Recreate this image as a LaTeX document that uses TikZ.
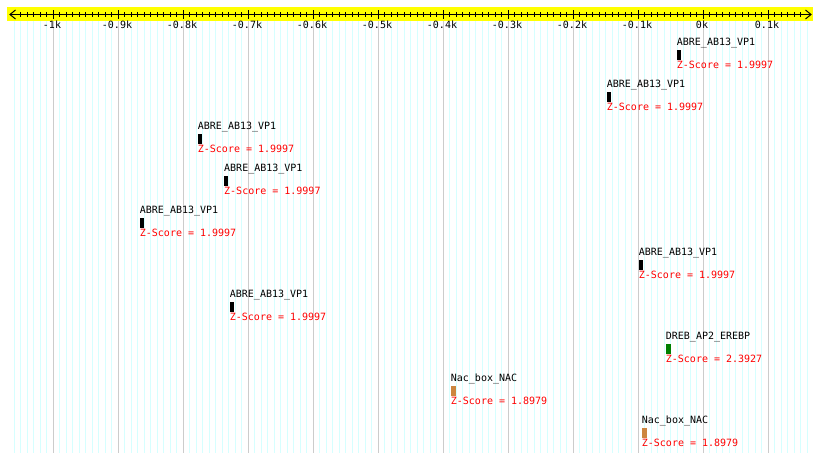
\documentclass[tikz,border=0pt]{standalone}
\usepackage{fontspec}
\setmonofont{DejaVu Sans Mono}
\definecolor{axisyellow}{RGB}{255,255,0}
\definecolor{gridcyan}{RGB}{214,255,255}
\definecolor{gridgray}{RGB}{204,204,204}
\definecolor{zred}{RGB}{255,0,0}
\definecolor{dgreen}{RGB}{0,128,0}
\definecolor{nactan}{RGB}{205,133,63}
\tikzset{
  minorgrid/.style={gridcyan, line width=1pt},
  majorgrid/.style={gridgray, line width=1pt},
  axisline/.style={black, line width=1pt},
  ticklabel/.style={anchor=base, inner sep=0pt, text=black},
  sitelabel/.style={anchor=base west, inner sep=0pt, text=black},
  scorelabel/.style={anchor=base west, inner sep=0pt, text=zred},
  sitebar/.style={anchor=north west, inner sep=0pt, minimum height=10pt, draw=none},
}
\begin{document}
\begin{tikzpicture}[x=1pt, y=-1pt, font=\ttfamily\fontsize{10}{12}\selectfont]
\useasboundingbox (0,0) rectangle (820,463);
\fill[white] (0,0) rectangle (820,463);
% grid lines
\foreach \v in {-1060,-1050,...,160}
  \draw[minorgrid] ({703.3+0.65*\v},21) -- ({703.3+0.65*\v},453);
\foreach \v in {-1000,-900,...,100}
  \draw[majorgrid] ({703.3+0.65*\v},21) -- ({703.3+0.65*\v},453);
% axis band
\fill[axisyellow] (7,7) rectangle (813,21);
\coordinate (axL) at (10,14.5);
\coordinate (axR) at (811,14.5);
\draw[axisline] (axL) -- (axR);
\draw[axisline] (15.5,10) -- (axL) -- (15.5,19);
\draw[axisline] (805.5,10) -- (axR) -- (805.5,19);
\foreach \v in {-1050,-1040,...,150}
  \draw[axisline] ({703.3+0.65*\v},12) -- ({703.3+0.65*\v},17);
\foreach \v in {-1000,-900,...,100}
  \draw[axisline] ({703.3+0.65*\v},10) -- ({703.3+0.65*\v},19);
% tick labels
\foreach \v/\t [count=\k] in {-1000/-1k,-900/-0.9k,-800/-0.8k,-700/-0.7k,-600/-0.6k,-500/-0.5k,-400/-0.4k,-300/-0.3k,-200/-0.2k,-100/-0.1k,0/0k,100/0.1k}
  \node[ticklabel] (tl\k) at ({702+0.65*\v},28.5) {\t};
% sites
\foreach \i/\x/\n/\c/\w/\z in {
  1/676.7/ABRE\_AB13\_VP1/black/4pt/1.9997,
  2/606.7/ABRE\_AB13\_VP1/black/4pt/1.9997,
  3/197.7/ABRE\_AB13\_VP1/black/4pt/1.9997,
  4/224/ABRE\_AB13\_VP1/black/4pt/1.9997,
  5/139.7/ABRE\_AB13\_VP1/black/4pt/1.9997,
  6/638.7/ABRE\_AB13\_VP1/black/4pt/1.9997,
  7/229.7/ABRE\_AB13\_VP1/black/4pt/1.9997,
  8/665.7/DREB\_AP2\_EREBP/dgreen/5pt/2.3927,
  9/450.7/Nac\_box\_NAC/nactan/5pt/1.8979,
  10/641.7/Nac\_box\_NAC/nactan/5pt/1.8979}
{
  \pgfmathsetmacro{\ty}{49.3+42*(\i-1)}
  \node[sitebar, fill=\c, minimum width=\w] (bar\i) at (\x,\ty) {};
  \node[sitelabel] (name\i) at (\x,\ty-4) {\n};
  \node[scorelabel] (score\i) at (\x,\ty+19) {Z-Score = \z};
}
\end{tikzpicture}
\end{document}
